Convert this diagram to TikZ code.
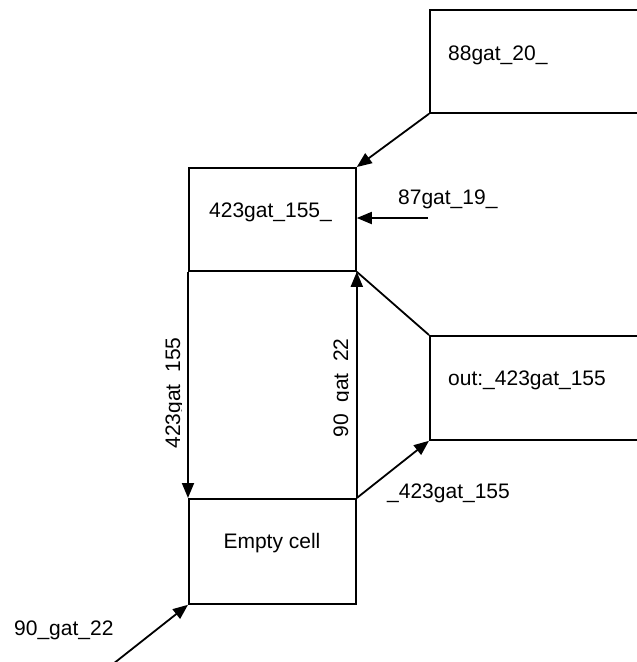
\documentclass[tikz,border=0pt]{standalone}
\usepackage{fontspec}
\setmainfont{Liberation Sans}
\usetikzlibrary{arrows.meta}
\begin{document}
\begin{tikzpicture}[x=1pt,y=-1pt,
  box/.style={draw, line width=1.8pt, inner sep=0pt, anchor=north west},
  lbl/.style={font=\fontsize{21}{25}\selectfont, inner sep=0pt},
  conn/.style={line width=1.8pt},
  arr/.style={line width=1.8pt, -{Triangle[length=15pt,width=12pt]}}]
\clip (0,0) rectangle (637,662);
% boxes
\node[box, minimum width=215pt, minimum height=103pt] (n88) at (429,9) {};
\node[box, minimum width=167pt, minimum height=103pt] (n423) at (188,167) {};
\node[box, minimum width=215pt, minimum height=104pt] (nout) at (429,335) {};
\node[box, minimum width=167pt, minimum height=105pt] (nempty) at (188,498) {};
% box labels
\node[lbl, anchor=base west] (t88) at (448,60) {88gat\_20\_};
\node[lbl, anchor=base west] (t423) at (209,217) {423gat\_155\_};
\node[lbl, anchor=base west] (tout) at (448,385) {out:\_423gat\_155};
\node[lbl, anchor=base] (tempty) at (272,548) {Empty cell};
% free ends
\coordinate (c87) at (428,218);
\coordinate (c90) at (113,664);
% connectors
\draw[arr] (n88.south west) -- (n423.north east);
\draw[arr] (c87) -- (c87 -| n423.east);
\draw[conn] (n423.south east) -- (nout.north west);
\draw[arr] (n423.south west) -- (nempty.north west);
\draw[arr] (nempty.north east) -- (n423.south east);
\draw[arr] (nempty.north east) -- (nout.south west);
\draw[arr] (c90) -- (nempty.south west);
% connector labels
\node[lbl, anchor=base west] (l87) at (398,204) {87gat\_19\_};
\node[lbl, anchor=base west] (l423b) at (387,498) {\_423gat\_155};
\node[lbl, anchor=base west] (l90) at (14,635) {90\_gat\_22};
\begin{scope}
\clip (150,300) rectangle (181,480);
\node[lbl, rotate=90, anchor=base] (lv1) at (180,393) {423gat\_155};
\end{scope}
\begin{scope}
\clip (320,300) rectangle (348,480);
\node[lbl, rotate=90, anchor=base] (lv2) at (348,388) {90\_gat\_22};
\end{scope}
\end{tikzpicture}
\end{document}
